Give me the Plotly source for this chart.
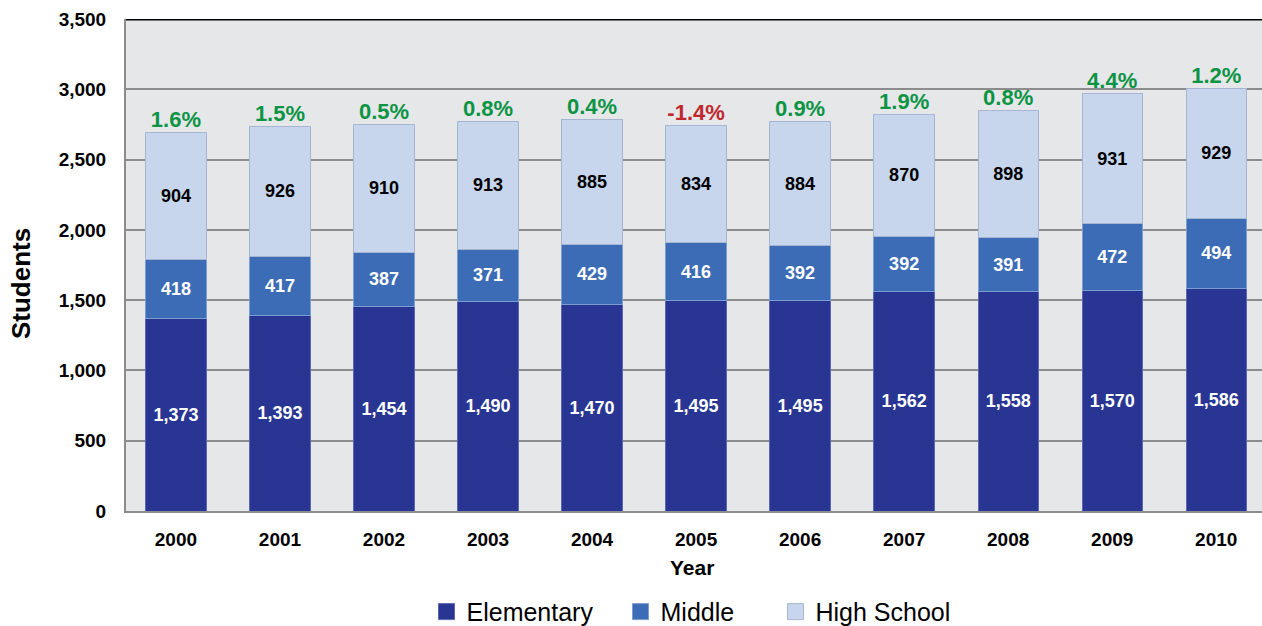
import plotly.graph_objects as go

years = ["2000", "2001", "2002", "2003", "2004", "2005", "2006", "2007", "2008", "2009", "2010"]
elementary = [1373, 1393, 1454, 1490, 1470, 1495, 1495, 1562, 1558, 1570, 1586]
middle = [418, 417, 387, 371, 429, 416, 392, 392, 391, 472, 494]
high_school = [904, 926, 910, 913, 885, 834, 884, 870, 898, 931, 929]
pct_change = ["1.6%", "1.5%", "0.5%", "0.8%", "0.4%", "-1.4%", "0.9%", "1.9%", "0.8%", "4.4%", "1.2%"]
y_ticks = [0, 500, 1000, 1500, 2000, 2500, 3000, 3500]

totals = [e + m + h for e, m, h in zip(elementary, middle, high_school)]
pct_colors = ["#c1272d" if p.startswith("-") else "#0b9444" for p in pct_change]

FONT = "Liberation Sans"
label_font = dict(family=FONT, size=18)

series = [
    ("Elementary", elementary, "#283593", "#5a68b0", "white", "legend", 0.2645),
    ("Middle", middle, "#3d6cb6", "#7d9dd0", "white", "legend2", 0.4353),
    ("High School", high_school, "#c7d6ed", "#a6b6d2", "black", "legend3", 0.5717),
]

fig = go.Figure()
for name, vals, col, edge, tcol, lg, lx in series:
    fig.add_trace(go.Bar(
        x=years, y=vals, name=name, showlegend=False,
        marker=dict(color=col, line=dict(color=edge, width=1)),
        text=[f"<b>{v:,}</b>" for v in vals], textposition="inside",
        insidetextanchor="middle", textangle=0,
        textfont=dict(color=tcol, **label_font),
    ))
# legend entries with larger square swatches
for name, vals, col, edge, tcol, lg, lx in series:
    fig.add_trace(go.Scatter(
        x=[None], y=[None], mode="markers", name=name, legend=lg,
        marker=dict(symbol="square", size=19, color=col, line=dict(color=edge, width=1)),
    ))

fig.add_trace(go.Scatter(
    x=years, y=totals, mode="text", showlegend=False,
    text=[f"<b>{p}</b>" for p in pct_change], textposition="top center",
    textfont=dict(family=FONT, size=22, color=pct_colors),
    cliponaxis=False, hoverinfo="skip",
))

legend_common = dict(
    orientation="h", xanchor="left", y=-0.205, yanchor="middle",
    font=dict(family=FONT, size=25, color="black"),
    itemwidth=30, bgcolor="rgba(0,0,0,0)",
)

fig.update_layout(
    barmode="stack",
    bargap=0.42,
    width=1262, height=626,
    margin=dict(l=126, r=0, t=19, b=115, autoexpand=False),
    paper_bgcolor="white",
    plot_bgcolor="#e6e7e9",
    showlegend=True,
    legend=dict(x=(437 - 10.5 - 126) / 1136, **legend_common),
    legend2=dict(x=(631 - 10.5 - 126) / 1136, **legend_common),
    legend3=dict(x=(786 - 10.5 - 126) / 1136, **legend_common),
    xaxis=dict(
        range=[-0.48, 10.44],
        showgrid=False, automargin=False,
        showline=True, linecolor="#8c8c8c", linewidth=2,
        tickfont=dict(family=FONT, size=19, color="black", weight="bold"),
        ticks="", ticklabelstandoff=10,
    ),
    yaxis=dict(
        range=[0, 3500], automargin=False,
        tickvals=y_ticks,
        tickformat=",d",
        showgrid=True, gridcolor="#8c8c8c", gridwidth=2,
        showline=True, linecolor="#8c8c8c", linewidth=2,
        zeroline=False,
        tickfont=dict(family=FONT, size=19, color="black", weight="bold"),
        ticks="", ticklabelstandoff=14,
    ),
    annotations=[
        dict(text="<b>Students</b>", xref="paper", yref="paper", x=-0.093, y=0.462,
             textangle=-90, showarrow=False, xanchor="center", yanchor="middle",
             font=dict(family=FONT, size=26, color="black")),
        dict(text="<b>Year</b>", xref="paper", yref="paper", x=0.4985, y=-0.114,
             showarrow=False, xanchor="center", yanchor="middle",
             font=dict(family=FONT, size=21, color="black")),
    ],
    shapes=[
        dict(type="line", xref="paper", yref="y", x0=0, x1=1, y0=3500, y1=3500,
             line=dict(color="black", width=3)),
    ],
)

fig.write_html(
    "out.html",
    config={"displayModeBar": False},
    post_script="document.body.style.margin='0';document.body.style.overflow='hidden';",
)
